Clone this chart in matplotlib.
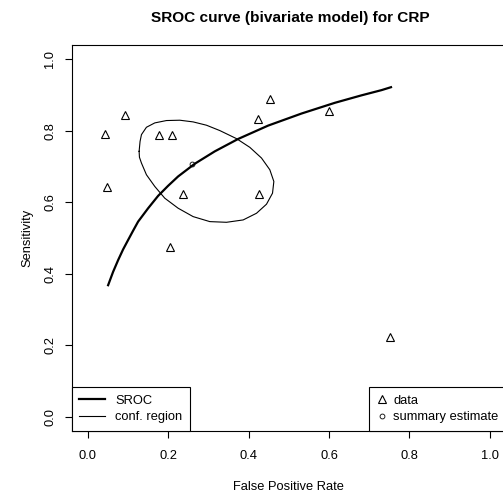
import matplotlib
matplotlib.use("Agg")
import matplotlib.pyplot as plt
from matplotlib.lines import Line2D

plt.rcParams['font.family'] = ['Liberation Sans', 'DejaVu Sans']

# study data (false positive rate, sensitivity)
fpr = [0.044, 0.092, 0.048, 0.176, 0.210, 0.236, 0.204, 0.423, 0.454, 0.425, 0.600, 0.751]
sens = [0.791, 0.845, 0.644, 0.789, 0.787, 0.624, 0.475, 0.833, 0.890, 0.622, 0.854, 0.222]

# summary estimate
sum_fpr = [0.260]
sum_sens = [0.707]

# SROC curve
sroc_fpr = [0.0506, 0.0630, 0.0755, 0.0879, 0.1003, 0.1128, 0.1252, 0.1501, 0.1750,
            0.1998, 0.2247, 0.2662, 0.3159, 0.3740, 0.4486, 0.5315, 0.6144, 0.680,
            0.7305, 0.754]
sroc_sens = [0.3680, 0.4054, 0.4382, 0.4682, 0.4944, 0.5206, 0.5459, 0.5833, 0.6180,
             0.6461, 0.6723, 0.7079, 0.7425, 0.7772, 0.8146, 0.8483, 0.8783, 0.899,
             0.9138, 0.922]

# confidence region outline
ell_fpr = [0.1277, 0.1300, 0.1335, 0.1459, 0.1667, 0.1957, 0.2289, 0.2620, 0.2952, 0.3284,
           0.3698, 0.4030, 0.4320, 0.4527, 0.4627, 0.4594, 0.4444, 0.4196, 0.3864,
           0.3449, 0.3035, 0.2620, 0.2247, 0.1915, 0.1667, 0.1459, 0.1335, 0.1285, 0.1277]
ell_sens = [0.7425, 0.7700, 0.7893, 0.8099, 0.8221, 0.8287, 0.8296, 0.8249, 0.8156, 0.8006,
            0.7781, 0.7537, 0.7238, 0.6910, 0.6582, 0.6255, 0.5946, 0.5693, 0.5506,
            0.5440, 0.5459, 0.5599, 0.5834, 0.6114, 0.6442, 0.6770, 0.7097, 0.7260, 0.7425]

fig = plt.figure(figsize=(5.03, 4.98), dpi=100)
ax = fig.add_axes([0.1425, 0.1345, 0.8635, 0.7751])

ax.plot(sroc_fpr, sroc_sens, color='black', lw=1.6, solid_joinstyle='round')
ax.plot(ell_fpr, ell_sens, color='black', lw=0.8, solid_joinstyle='round')
ax.plot(fpr, sens, linestyle='none', marker='^', mfc='none', mec='black', ms=6, mew=0.8)
ax.plot(sum_fpr, sum_sens, linestyle='none', marker='o', mfc='none', mec='black', ms=3.5, mew=0.6)

ax.set_xlim(-0.04, 1.04)
ax.set_ylim(-0.04, 1.04)
ticks = [0.0, 0.2, 0.4, 0.6, 0.8, 1.0]
ax.set_xticks(ticks)
ax.set_yticks(ticks)
ax.set_xticklabels(['0.0', '0.2', '0.4', '0.6', '0.8', '1.0'])
ax.set_yticklabels(['0.0', '0.2', '0.4', '0.6', '0.8', '1.0'], rotation=90, va='center')
ax.tick_params(direction='out', length=5, width=0.8, labelsize=9.3, pad=9)
ax.tick_params(axis='y', pad=6)
for s in ax.spines.values():
    s.set_linewidth(0.8)

ax.set_xlabel('False Positive Rate', fontsize=9.3, labelpad=13)
ax.set_ylabel('Sensitivity', fontsize=9.3, labelpad=8)
fig.text(0.577, 0.963, 'SROC curve (bivariate model) for CRP', ha='center', va='center',
         fontsize=11.1, fontweight='bold')

h1 = [Line2D([], [], color='black', lw=1.6), Line2D([], [], color='black', lw=0.8)]
leg1 = ax.legend(h1, ['SROC', 'conf. region'], loc='lower left', borderaxespad=0,
                 fancybox=False, edgecolor='black', framealpha=1, fontsize=9.3,
                 handlelength=2.0, handletextpad=0.75, labelspacing=0.35,
                 borderpad=0.6)
leg1.get_frame().set_linewidth(0.8)
ax.add_artist(leg1)

h2 = [Line2D([], [], linestyle='none', marker='^', mfc='none', mec='black', ms=6, mew=0.8),
      Line2D([], [], linestyle='none', marker='o', mfc='none', mec='black', ms=3.5, mew=0.6)]
leg2 = ax.legend(h2, ['data', 'summary estimate'], loc='lower right', borderaxespad=0,
                 fancybox=False, edgecolor='black', framealpha=1, fontsize=9.3,
                 handlelength=0.8, handletextpad=0.45, labelspacing=0.35,
                 borderpad=0.6, bbox_to_anchor=(1.0, 0.0))
leg2.get_frame().set_linewidth(0.8)

fig.savefig('out.png', dpi=100)
